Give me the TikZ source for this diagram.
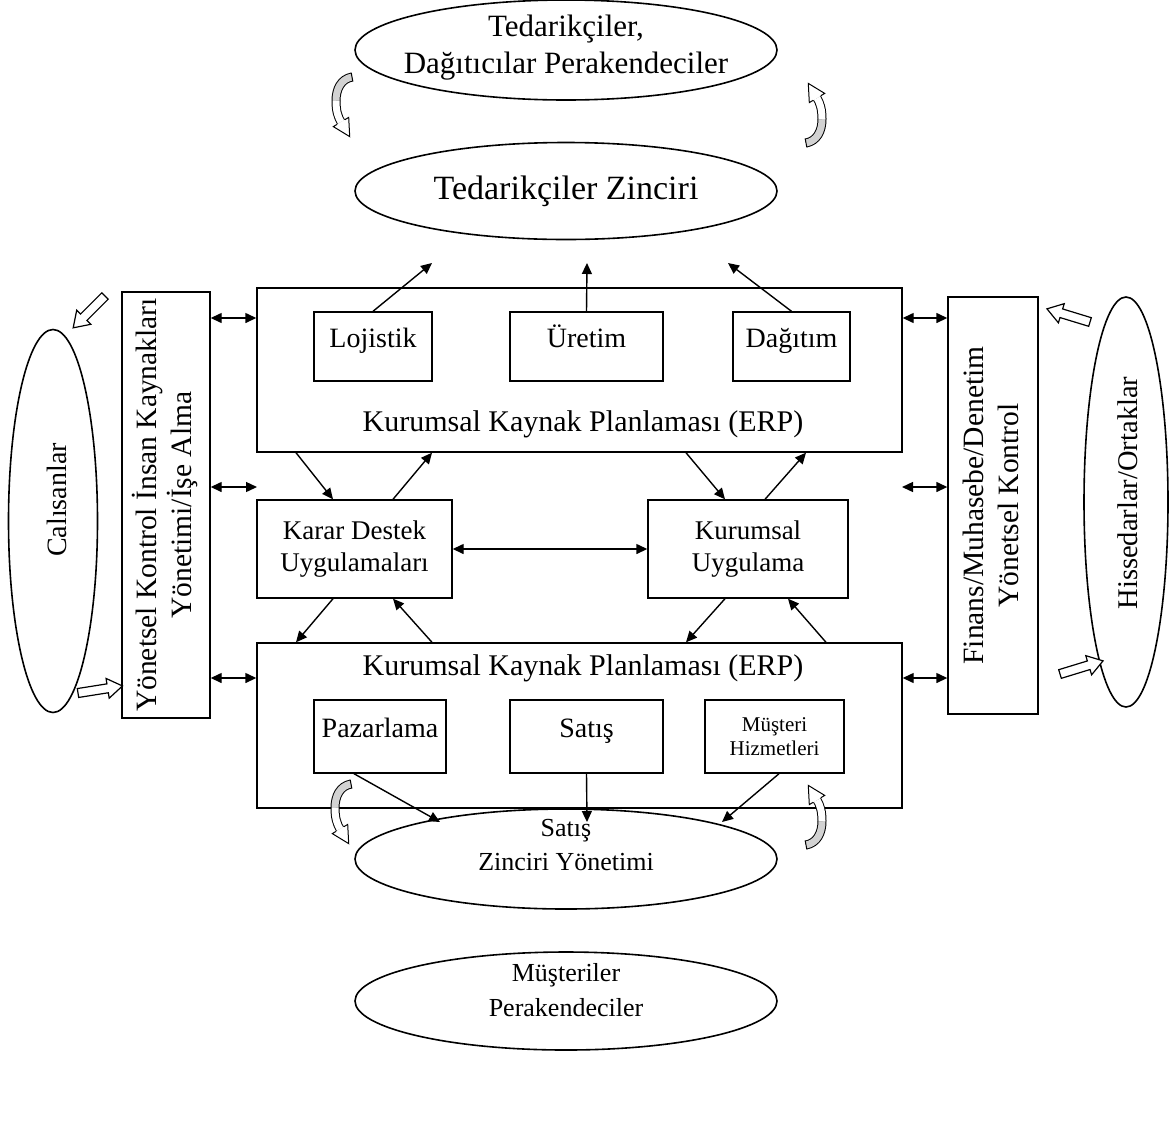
\documentclass[tikz,border=0pt]{standalone}
\usepackage{fontspec}
\setmainfont{Liberation Serif}
\usetikzlibrary{shapes.geometric,arrows.meta}

\tikzset{
  % curled arrow: shaded tail band, white band, open head
  curl/.pic={
    \draw[line width=1pt, double=gray!35, double distance=7pt]
      (8,-30) .. controls (-3,-28) and (-8,-18) .. (-8,-6);
    \draw[line width=1pt] (8.8,-25.6) -- (7.2,-34.4);
    \draw[line width=1pt, double=white, double distance=7pt]
      (-8,-6) .. controls (-8,4) and (-6,10) .. (-3,15);
    \fill[white] (4.7,10.4) -- (5.7,29.6) -- (-10.7,19.6) -- cycle;
    \draw[line width=1pt, line join=miter]
      (0.86,12.7) -- (4.7,10.4) -- (5.7,29.6) -- (-10.7,19.6) -- (-6.86,17.3);
  },
  % hollow block arrow pointing along +x, tail at the origin
  hollowarrow/.pic={
    \draw[line width=1.2pt, fill=white, line join=miter]
      (0,-4.5) -- (30,-4.5) -- (30,-10) -- (45,0) -- (30,10) -- (30,4.5) -- (0,4.5) -- cycle;
  },
}

\newcommand{\fsz}[1]{\fontsize{#1}{1.17\dimexpr#1pt\relax}\selectfont}

\begin{document}
\begin{tikzpicture}[x=1pt, y=-1pt, line width=1.3pt,
  txt/.style={font=\fsz{29}, align=center, inner sep=0pt},
  box/.style={draw, line width=1.4pt, inner sep=0pt, align=center, font=\fsz{27}},
  lowtext/.style={font=\fsz{28}, text height=20pt, text depth=18pt},
  oval/.style={draw, ellipse, line width=1.6pt, inner sep=0pt},
  link/.style={-{Triangle[length=11pt,width=10pt]}, line width=1.4pt},
  dlink/.style={{Triangle[length=11pt,width=10pt]}-{Triangle[length=11pt,width=10pt]}, line width=1.4pt},
]
\useasboundingbox (0,0) rectangle (1172,1120);

% supply side ovals
\node[oval, minimum width=422pt, minimum height=100pt] (supp) at (566,50) {};
\node[txt, font=\fontsize{31}{37}\selectfont] (supptxt) at (566,48) {Tedarikçiler,\\Dağıtıcılar Perakendeciler};
\node[oval, minimum width=422pt, minimum height=97pt] (chain) at (566,191) {};
\node[txt, font=\fsz{34}] (chaintxt) at (566,191) {Tedarikçiler Zinciri};

% sales side ovals
\node[oval, minimum width=422pt, minimum height=100pt] (sales) at (566,859) {};
\node[txt, font=\fontsize{26}{34}\selectfont] (salestxt) at (566,845) {Satış\\Zinciri Yönetimi};
\node[oval, minimum width=422pt, minimum height=98pt] (cust) at (566,1001) {};
\node[txt, font=\fontsize{26}{35}\selectfont] (custtxt) at (566,990) {Müşteriler\\Perakendeciler};

% side ovals
\node[oval, minimum width=89pt, minimum height=383pt] (emp) at (53,521) {};
\node[txt, rotate=90, font=\fsz{28}] (emptxt) at (57,500) {Calısanlar};
\node[oval, minimum width=84pt, minimum height=410pt] (share) at (1126,502) {};
\node[txt, rotate=90, font=\fsz{28.5}] (sharetxt) at (1128,493) {Hissedarlar/Ortaklar};

% upper ERP block
\node[box, minimum width=645pt, minimum height=164pt] (erpT) at (579.5,370) {};
\node[txt, font=\fsz{30}] (erpTtxt) at (583,424) {Kurumsal Kaynak Planlaması (ERP)};
\node[box, lowtext, minimum width=118pt, minimum height=69pt] (loj) at (373,346.5) {Lojistik};
\node[box, lowtext, minimum width=153pt, minimum height=69pt] (uret) at (586.5,346.5) {Üretim};
\node[box, lowtext, minimum width=117pt, minimum height=69pt] (dag) at (791.5,346.5) {Dağıtım};

% middle applications
\node[box, minimum width=195pt, minimum height=98pt] (karar) at (354.5,549) {Karar Destek\\Uygulamaları};
\node[box, minimum width=200pt, minimum height=98pt] (kurum) at (748,549) {Kurumsal\\Uygulama};

% lower ERP block
\node[box, minimum width=645pt, minimum height=165pt] (erpB) at (579.5,725.5) {};
\node[txt, font=\fsz{30}] (erpBtxt) at (583,668) {Kurumsal Kaynak Planlaması (ERP)};
\node[box, lowtext, minimum width=132pt, minimum height=73pt] (paz) at (380,736.5) {Pazarlama};
\node[box, lowtext, minimum width=153pt, minimum height=73pt] (sat) at (586.5,736.5) {Satış};
\node[box, minimum width=139pt, minimum height=73pt, font=\fsz{21}] (mh) at (774.5,736.5) {Müşteri\\Hizmetleri};

% side control boxes
\node[box, minimum width=88pt, minimum height=426pt] (lbox) at (166,505) {};
\node[txt, rotate=90, font=\fsz{29.5}] (lboxtxt) at (165,505) {Yönetsel Kontrol İnsan Kaynakları\\Yönetimi/İşe Alma};
\node[box, minimum width=90pt, minimum height=417pt] (rbox) at (993,505.5) {};
\node[txt, rotate=90, font=\fsz{29.5}] (rboxtxt) at (991,505.5) {Finans/Muhasebe/Denetim\\Yönetsel Kontrol};

% free ends
\coordinate (c1) at (432,263);
\coordinate (c2) at (587,263);
\coordinate (c3) at (728,263);
\coordinate (s1) at (440,822);
\coordinate (s2) at (587,822);
\coordinate (s3) at (722,822);
\coordinate (row1) at (0,318);
\coordinate (row2) at (0,487);
\coordinate (row3) at (0,678);
\coordinate (gapL) at (257,487);
\coordinate (gapR) at (902,487);

% ERP to supply chain
\draw[link] (loj.north) -- (c1);
\draw[link] (uret.north) -- (c2);
\draw[link] (dag.north) -- (c3);

% ERP blocks and applications
\draw[link] (erpT.south -| 296,0) -- (karar.north -| 333,0);
\draw[link] (karar.north -| 393,0) -- (erpT.south -| 432,0);
\draw[link] (erpT.south -| 686,0) -- (kurum.north -| 725,0);
\draw[link] (kurum.north -| 765,0) -- (erpT.south -| 806,0);
\draw[link] (karar.south -| 333,0) -- (erpB.north -| 296,0);
\draw[link] (erpB.north -| 432,0) -- (karar.south -| 393,0);
\draw[link] (kurum.south -| 725,0) -- (erpB.north -| 686,0);
\draw[link] (erpB.north -| 826,0) -- (kurum.south -| 788,0);
\draw[dlink] (karar.east) -- (kurum.west);

% ERP to sales chain
\draw[link] (paz.south -| 354,0) -- (s1);
\draw[link] (sat.south) -- (s2);
\draw[link] (mh.south -| 779,0) -- (s3);

% side box links
\draw[dlink] (lbox.east |- row1) -- (erpT.west |- row1);
\draw[dlink] (lbox.east |- row2) -- (gapL);
\draw[dlink] (lbox.east |- row3) -- (erpB.west |- row3);
\draw[dlink] (erpT.east |- row1) -- (rbox.west |- row1);
\draw[dlink] (gapR) -- (rbox.west |- row2);
\draw[dlink] (erpB.east |- row3) -- (rbox.west |- row3);

% hollow arrows
\pic[rotate=225] at (105,296) {hollowarrow};
\pic[rotate=9] at (78,693) {hollowarrow};
\pic[rotate=163] at (1090,322) {hollowarrow};
\pic[rotate=17] at (1060,674) {hollowarrow};

% curled arrows
\pic at (344,107) {curl};
\pic[rotate=180] at (814,113) {curl};
\pic at (343,814) {curl};
\pic[rotate=180] at (814,815) {curl};
\end{tikzpicture}
\end{document}
